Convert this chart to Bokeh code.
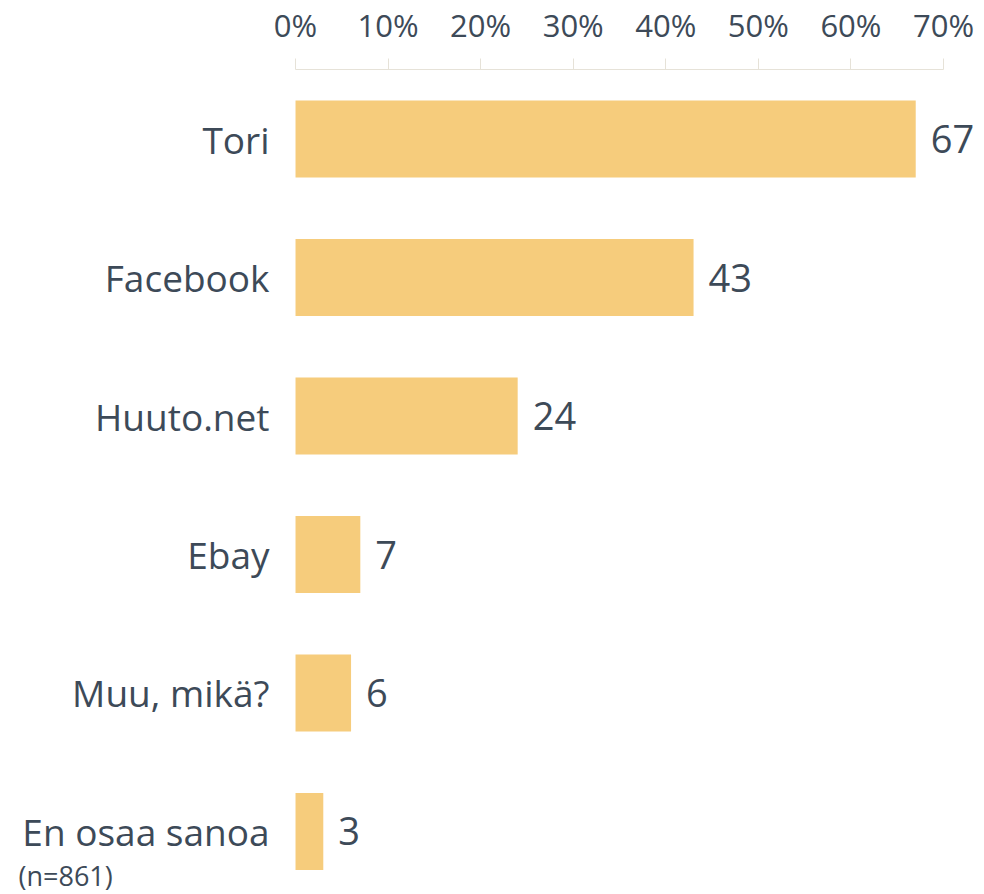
from bokeh.plotting import figure
from bokeh.models import Range1d, FixedTicker, PrintfTickFormatter, ColumnDataSource
from bokeh.core.properties import value
from bokeh.embed import file_html
from bokeh.resources import INLINE

categories = ["Tori", "Facebook", "Huuto.net", "Ebay", "Muu, mikä?", "En osaa sanoa"]
values = [67, 43, 24, 7, 6, 3]
x_ticks = [0, 10, 20, 30, 40, 50, 60, 70]
note = "(n=861)"

TEXT = "#3d4a58"
BAR = "#f6cc7c"
FONT = "Open Sans"

idx = list(range(len(categories)))
zeros = [0] * len(categories)
src = ColumnDataSource(dict(y=idx, v=values, z=zeros, cat=categories,
                            lab=[str(v) for v in values]))

p = figure(width=984, height=894, output_backend="svg", toolbar_location=None,
           x_axis_location="above",
           x_range=Range1d(-31.87, 74.43), y_range=Range1d(5.455, -0.502),
           min_border_left=0, min_border_right=0, min_border_bottom=0, min_border_top=0)
p.outline_line_color = None
p.grid.visible = False
p.yaxis.visible = False
p.background_fill_color = "white"

p.hbar(y="y", right="v", left="z", height=0.556, color=BAR, line_color=None, source=src)
p.text(x="v", y="y", text="lab", source=src, x_offset=15, text_baseline="middle",
       text_align="left", text_font=value(FONT), text_font_size="38px", text_color=TEXT)
p.text(x="z", y="y", text="cat", source=src, x_offset=-26, text_baseline="middle",
       text_align="right", text_font=value(FONT), text_font_size="37px", text_color=TEXT)
p.text(x=[p.x_range.start], y=[idx[-1]], text=[note], x_offset=18, y_offset=44,
       text_baseline="middle", text_align="left", text_font=value(FONT),
       text_font_size="27px", text_color=TEXT)

xa = p.xaxis[0]
xa.bounds = (x_ticks[0], x_ticks[-1])
xa.ticker = FixedTicker(ticks=x_ticks)
xa.formatter = PrintfTickFormatter(format="%d%%")
xa.axis_line_color = "#e6e2d8"
xa.major_tick_line_color = "#e6e2d8"
xa.major_tick_out = 11
xa.major_tick_in = 0
xa.minor_tick_line_color = None
xa.major_label_text_font = FONT
xa.major_label_text_font_size = "31px"
xa.major_label_text_color = TEXT
xa.major_label_standoff = 13

open("out.html", "w").write(file_html(p, INLINE))
